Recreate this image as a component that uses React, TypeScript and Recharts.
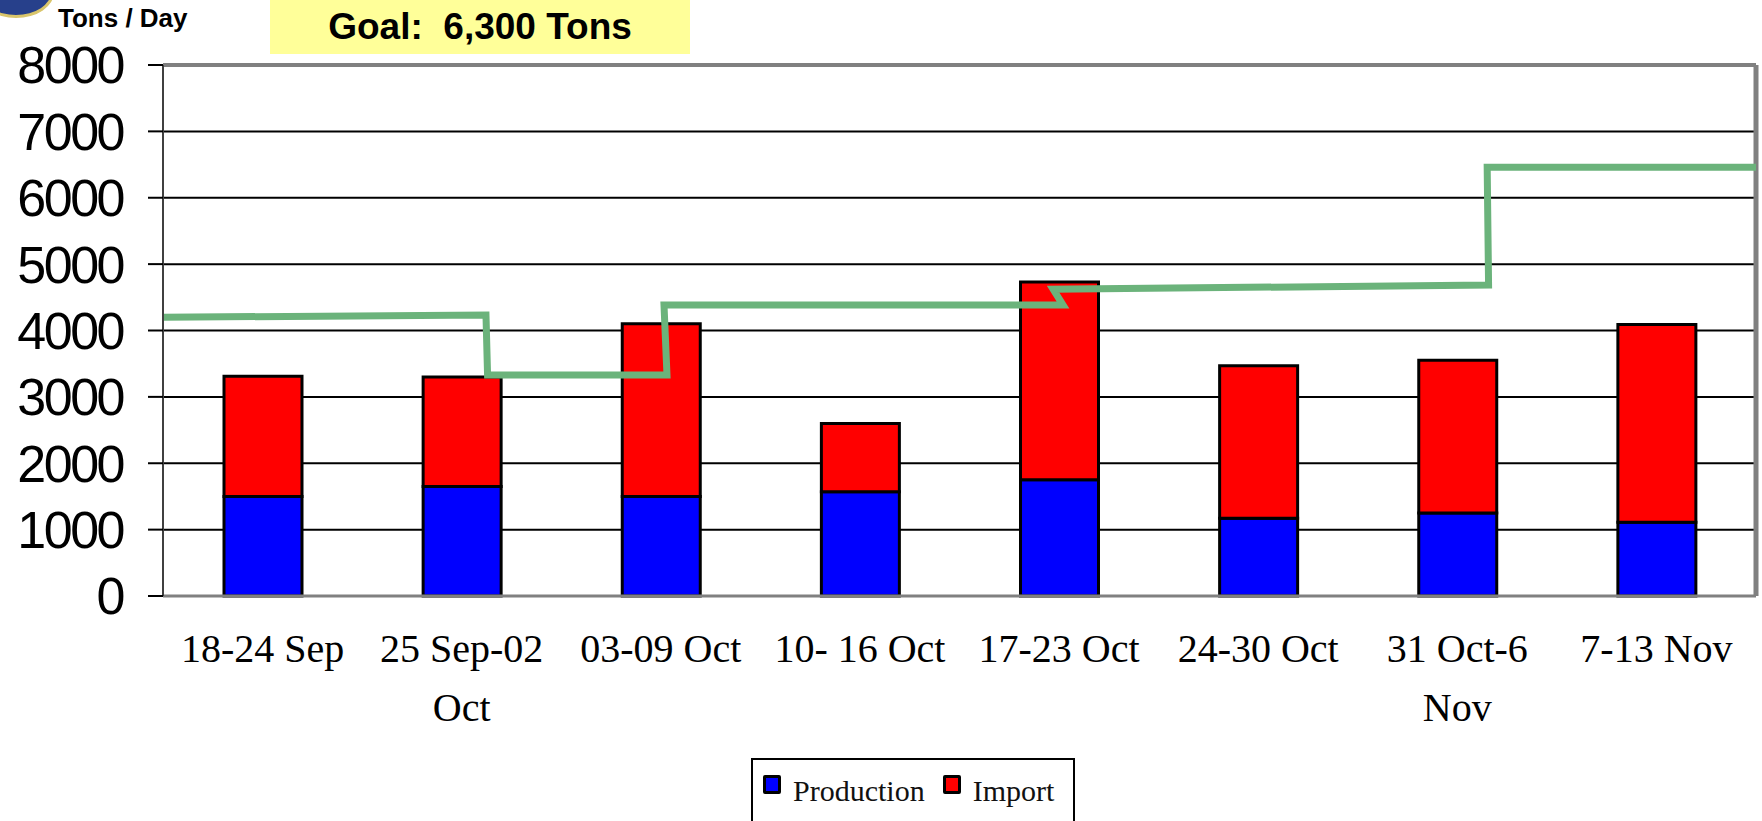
import React from "react";
import {
  ComposedChart,
  Bar,
  Line,
  XAxis,
  YAxis,
  CartesianGrid,
  ReferenceLine,
  Legend,
} from "recharts";

const weeks = [
  "18-24 Sep",
  "25 Sep-02\nOct",
  "03-09 Oct",
  "10- 16 Oct",
  "17-23 Oct",
  "24-30 Oct",
  "31 Oct-6\nNov",
  "7-13 Nov",
];
const production = [1500, 1650, 1500, 1570, 1750, 1170, 1250, 1110];
const imports = [1810, 1650, 2600, 1030, 2980, 2300, 2300, 2980];

// goal line: position in weeks from the left edge, tons/day
const goalPos = [0, 1.622, 1.63, 2.531, 2.516, 4.52, 4.47, 6.657, 6.65, 8];
const goalTons = [4200, 4232, 3328, 3328, 4383, 4383, 4623, 4684, 6461, 6461];

const yTicks = [0, 1000, 2000, 3000, 4000, 5000, 6000, 7000, 8000];
const weekEdges = [0, 1, 2, 3, 4, 5, 6, 7, 8];

const data = weeks.map((w, i) => ({
  week: w,
  production: production[i],
  import: imports[i],
}));
const goalData = goalPos.map((u, i) => ({ u, tons: goalTons[i] }));

const serif = "'Liberation Serif', 'Times New Roman', serif";
const sans = "'Liberation Sans', Arial, sans-serif";

const WeekTick = (props: any) => {
  const { x, y, payload } = props;
  const lines = String(payload.value).split("\n");
  return (
    <text x={x} y={y} textAnchor="middle" fontFamily={serif} fontSize={40} fill="#000">
      {lines.map((l, i) => (
        <tspan key={i} x={x} dy={i === 0 ? 46 : 59}>
          {l}
        </tspan>
      ))}
    </text>
  );
};

const Swatch = ({ color }: { color: string }) => (
  <span
    style={{
      display: "inline-block",
      width: 12,
      height: 13,
      background: color,
      border: "3px solid #000",
      borderRadius: 2,
      marginRight: 12,
      position: "relative",
      top: -7,
    }}
  />
);

const LegendBox = () => (
  <div
    style={{
      border: "2px solid #000",
      width: 324,
      height: 80,
      boxSizing: "border-box",
      padding: "14px 0 0 10px",
      fontFamily: serif,
      fontSize: 30,
      color: "#111",
      background: "#fff",
      whiteSpace: "nowrap",
    }}
  >
    <Swatch color="#0000FF" />
    <span style={{ marginRight: 18 }}>Production</span>
    <Swatch color="#FF0000" />
    <span>Import</span>
  </div>
);

export default function App() {
  return (
    <div style={{ position: "relative", width: 1762, height: 821, overflow: "hidden", background: "#fff" }}>
      <style>{"body{margin:0}"}</style>
      <ComposedChart
        width={1762}
        height={821}
        data={data}
        margin={{ top: 65, right: 6, left: 0, bottom: 73 }}
        barSize={78}
      >
        <CartesianGrid xAxisId="b" vertical={false} stroke="#000" strokeWidth={2} />
        <XAxis
          xAxisId="b"
          dataKey="week"
          interval={0}
          axisLine={false}
          tickLine={false}
          tick={<WeekTick />}
          height={140}
        />
        <XAxis
          xAxisId="a"
          dataKey="u"
          type="number"
          domain={[0, 8]}
          ticks={weekEdges}
          allowDataOverflow
          tick={false}
          tickSize={10}
          tickLine={{ stroke: "#000", strokeWidth: 2 }}
          axisLine={{ stroke: "#808080", strokeWidth: 3 }}
          height={12}
        />
        <YAxis
          domain={[0, 8000]}
          ticks={yTicks}
          width={163}
          tickSize={15}
          tickMargin={25}
          tickLine={{ stroke: "#000", strokeWidth: 2 }}
          axisLine={{ stroke: "#404040", strokeWidth: 2 }}
          tick={{ fill: "#000", fontSize: 52, fontFamily: sans, letterSpacing: -2.5 }}
        />
        <ReferenceLine xAxisId="a" y={8000} stroke="#808080" strokeWidth={4} />
        <ReferenceLine xAxisId="a" x={8} stroke="#808080" strokeWidth={5} />
        <Bar
          xAxisId="b"
          dataKey="production"
          name="Production"
          stackId="s"
          fill="#0000FF"
          stroke="#000"
          strokeWidth={3}
          isAnimationActive={false}
        />
        <Bar
          xAxisId="b"
          dataKey="import"
          name="Import"
          stackId="s"
          fill="#FF0000"
          stroke="#000"
          strokeWidth={3}
          isAnimationActive={false}
        />
        <Line
          xAxisId="a"
          data={goalData}
          dataKey="tons"
          type="linear"
          stroke="#6BB37B"
          strokeWidth={7}
          strokeLinecap="round"
          dot={false}
          activeDot={false}
          legendType="none"
          isAnimationActive={false}
        />
        <Legend
          layout="horizontal"
          verticalAlign="middle"
          align="center"
          width={324}
          height={80}
          content={<LegendBox />}
          wrapperStyle={{ position: "absolute", left: 751, top: 758, width: 324, height: 80 }}
        />
      </ComposedChart>
      <div
        style={{
          position: "absolute",
          left: -22,
          top: -34,
          width: 70,
          height: 46,
          borderRadius: "50%",
          background: "#27408b",
          border: "3px solid #d9c56b",
        }}
      />
      <div
        style={{
          position: "absolute",
          left: 58,
          top: 3,
          fontFamily: sans,
          fontWeight: "bold",
          fontSize: 26,
          color: "#000",
          whiteSpace: "nowrap",
        }}
      >
        Tons / Day
      </div>
      <div
        style={{
          position: "absolute",
          left: 270,
          top: 0,
          width: 420,
          height: 54,
          background: "#FFFF99",
          fontFamily: sans,
          fontWeight: "bold",
          fontSize: 37,
          color: "#000",
          display: "flex",
          alignItems: "center",
          justifyContent: "center",
          whiteSpace: "pre",
        }}
      >
        {"Goal:  6,300 Tons"}
      </div>
    </div>
  );
}
